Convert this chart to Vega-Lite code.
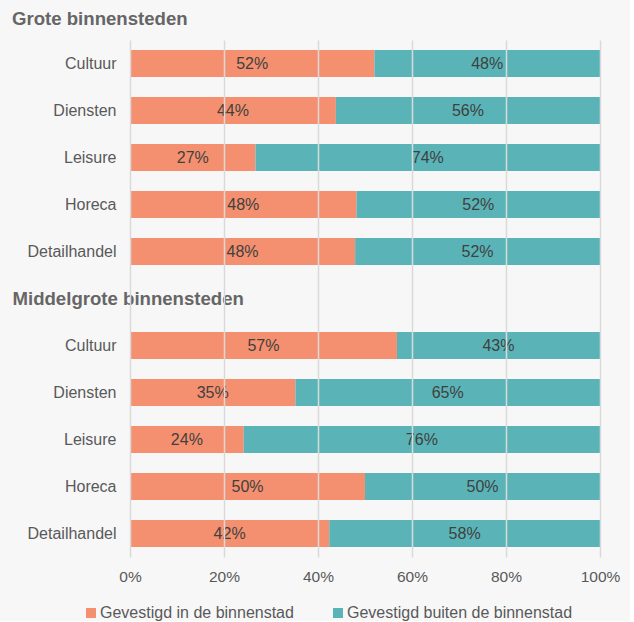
{
  "$schema": "https://vega.github.io/schema/vega-lite/v6.json",
  "width": 470,
  "height": 517,
  "padding": {"left": 12, "top": 10, "right": 10, "bottom": 0},
  "background": "#f7f7f7",
  "title": {"text": "Grote binnensteden", "anchor": "start", "frame": "bounds", "font": "Liberation Sans", "fontSize": 18.6, "fontWeight": "bold", "color": "#666666", "offset": 11},
  "config": {"view": {"stroke": null}, "font": "Liberation Sans"},
  "data": {"values": [
    {"row": "G|Cultuur", "type": "Gevestigd in de binnenstad", "share": 52.0, "label": "52%"},
    {"row": "G|Cultuur", "type": "Gevestigd buiten de binnenstad", "share": 48.0, "label": "48%"},
    {"row": "G|Diensten", "type": "Gevestigd in de binnenstad", "share": 43.8, "label": "44%"},
    {"row": "G|Diensten", "type": "Gevestigd buiten de binnenstad", "share": 56.2, "label": "56%"},
    {"row": "G|Leisure", "type": "Gevestigd in de binnenstad", "share": 26.7, "label": "27%"},
    {"row": "G|Leisure", "type": "Gevestigd buiten de binnenstad", "share": 73.3, "label": "74%"},
    {"row": "G|Horeca", "type": "Gevestigd in de binnenstad", "share": 48.2, "label": "48%"},
    {"row": "G|Horeca", "type": "Gevestigd buiten de binnenstad", "share": 51.8, "label": "52%"},
    {"row": "G|Detailhandel", "type": "Gevestigd in de binnenstad", "share": 47.9, "label": "48%"},
    {"row": "G|Detailhandel", "type": "Gevestigd buiten de binnenstad", "share": 52.1, "label": "52%"},
    {"row": "M|Cultuur", "type": "Gevestigd in de binnenstad", "share": 56.8, "label": "57%"},
    {"row": "M|Cultuur", "type": "Gevestigd buiten de binnenstad", "share": 43.2, "label": "43%"},
    {"row": "M|Diensten", "type": "Gevestigd in de binnenstad", "share": 35.2, "label": "35%"},
    {"row": "M|Diensten", "type": "Gevestigd buiten de binnenstad", "share": 64.8, "label": "65%"},
    {"row": "M|Leisure", "type": "Gevestigd in de binnenstad", "share": 24.2, "label": "24%"},
    {"row": "M|Leisure", "type": "Gevestigd buiten de binnenstad", "share": 75.8, "label": "76%"},
    {"row": "M|Horeca", "type": "Gevestigd in de binnenstad", "share": 50.0, "label": "50%"},
    {"row": "M|Horeca", "type": "Gevestigd buiten de binnenstad", "share": 50.0, "label": "50%"},
    {"row": "M|Detailhandel", "type": "Gevestigd in de binnenstad", "share": 42.4, "label": "42%"},
    {"row": "M|Detailhandel", "type": "Gevestigd buiten de binnenstad", "share": 57.6, "label": "58%"}
  ]},
  "transform": [
    {"stack": "share", "groupby": ["row"], "sort": [{"field": "type", "order": "descending"}], "as": ["x0", "x1"]}
  ],
  "encoding": {
    "y": {
      "field": "row",
      "type": "nominal",
      "title": null,
      "scale": {
        "domain": ["G|Cultuur", "G|Diensten", "G|Leisure", "G|Horeca", "G|Detailhandel", "Middelgrote binnensteden", "M|Cultuur", "M|Diensten", "M|Leisure", "M|Horeca", "M|Detailhandel"],
        "paddingInner": 0.43,
        "paddingOuter": 0.215
      },
      "axis": {
        "domain": false,
        "ticks": false,
        "tickSize": 0,
        "labelLimit": 400,
        "labelExpr": "indexof(datum.value, '|') >= 0 ? split(datum.value, '|')[1] : datum.value",
        "labelFontSize": {"condition": {"test": "indexof(datum.value, '|') < 0", "value": 18.6}, "value": 16},
        "labelFontWeight": {"condition": {"test": "indexof(datum.value, '|') < 0", "value": "bold"}, "value": "normal"},
        "labelColor": {"condition": {"test": "indexof(datum.value, '|') < 0", "value": "#666666"}, "value": "#595959"},
        "labelAlign": {"condition": {"test": "indexof(datum.value, '|') < 0", "value": "left"}, "value": "right"},
        "labelPadding": {"condition": {"test": "indexof(datum.value, '|') < 0", "value": 118}, "value": 14},
        "labelFont": "Liberation Sans"
      }
    }
  },
  "layer": [
    {
      "mark": {"type": "bar"},
      "encoding": {
        "x": {
          "field": "x0",
          "type": "quantitative",
          "scale": {"domain": [0, 100]},
          "title": null,
          "axis": {
            "values": [0, 20, 40, 60, 80, 100],
            "labelExpr": "datum.value + '%'",
            "labelFlush": false,
            "domain": false,
            "ticks": false,
            "grid": true,
            "gridColor": "#d9d9d9",
            "gridWidth": 1.5,
            "zindex": 1,
            "labelFontSize": 15.5,
            "labelColor": "#595959",
            "labelPadding": 12,
            "labelFont": "Liberation Sans"
          }
        },
        "x2": {"field": "x1"},
        "color": {
          "field": "type",
          "type": "nominal",
          "scale": {"domain": ["Gevestigd in de binnenstad", "Gevestigd buiten de binnenstad"], "range": ["#f4906f", "#5ab4b7"]},
          "legend": {
            "orient": "none",
            "direction": "horizontal",
            "legendX": -47,
            "legendY": 565,
            "title": null,
            "symbolType": "square",
            "symbolSize": 100,
            "symbolStrokeWidth": 0,
            "labelFontSize": 16,
            "labelColor": "#595959",
            "labelFont": "Liberation Sans",
            "labelLimit": 400,
            "labelOffset": 1,
            "columnPadding": 36
          }
        }
      }
    },
    {
      "transform": [
        {"fold": ["x0", "x1"], "as": ["edge", "pos"]},
        {"aggregate": [{"op": "mean", "field": "pos", "as": "mid"}], "groupby": ["row", "type", "label"]}
      ],
      "mark": {"type": "text", "fontSize": 16, "color": "#404040", "font": "Liberation Sans"},
      "encoding": {
        "x": {"field": "mid", "type": "quantitative"},
        "text": {"field": "label"}
      }
    }
  ]
}
